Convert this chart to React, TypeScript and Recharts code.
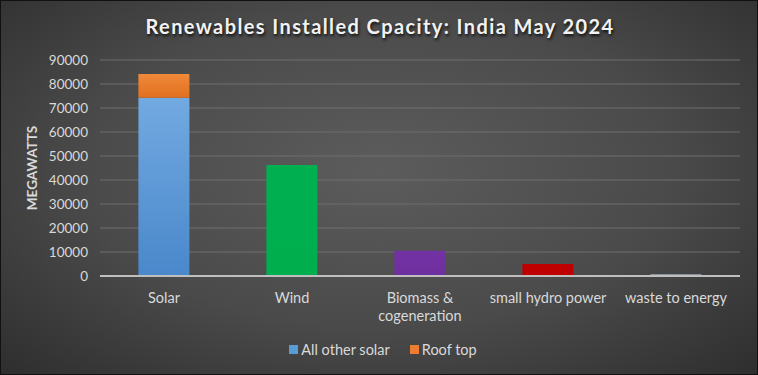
import React from "react";
import { BarChart, Bar, XAxis, YAxis, CartesianGrid, Cell, Label } from "recharts";

const categories = ["Solar", "Wind", "Biomass & cogeneration", "small hydro power", "waste to energy"];
const allOtherSolar = [74300, 46200, 10500, 5000, 600];
const roofTop = [9900, 0, 0, 0, 0];
const yTicks = [0, 10000, 20000, 30000, 40000, 50000, 60000, 70000, 80000, 90000];
const seriesNames = ["All other solar", "Roof top"];
const seriesColors = ["#5b9bd5", "#ed7d31"];
const pointGradients = ["gSolar", "gWind", "gBio", "gHydro", "gWaste"];

const data = categories.map((c, i) => ({ name: c, other: allOtherSolar[i], roof: roofTop[i] }));

const FONT = "Lato, 'Open Sans', sans-serif";
const TXT = "#d9d9d9";

const XTick = (props: any) => {
  const { x, y, payload } = props;
  const words = String(payload.value).split(" ");
  const lines: string[] = [];
  let cur = "";
  for (const w of words) {
    const t = cur ? cur + " " + w : w;
    if (t.length > 18 && cur) {
      lines.push(cur);
      cur = w;
    } else cur = t;
  }
  if (cur) lines.push(cur);
  return (
    <text x={x} y={y + 19} textAnchor="middle" fill={TXT} fontSize={14.5} fontFamily={FONT}>
      {lines.map((l, i) => (
        <tspan key={i} x={x} dy={i === 0 ? 0 : 18}>
          {l}
        </tspan>
      ))}
    </text>
  );
};

export default function App() {
  return (
    <div
      style={{
        position: "absolute",
        left: 0,
        top: 0,
        width: 758,
        height: 375,
        boxSizing: "border-box",
        border: "1px solid #111",
        background: "radial-gradient(ellipse at 50% 45%, #5c5c5c 0%, #4a4a4a 55%, #2e2e2e 100%)",
        overflow: "hidden",
      }}
    >
      <div
        style={{
          position: "absolute",
          top: 13,
          left: 0,
          width: 758,
          textAlign: "center",
          fontFamily: FONT,
          fontWeight: 700,
          fontSize: 20,
          color: "#f2f2f2",
          letterSpacing: 1.4,
          textShadow: "1px 2px 3px rgba(0,0,0,0.8)",
        }}
      >
        Renewables Installed Cpacity: India May 2024
      </div>
      <div style={{ position: "absolute", left: -1, top: -1 }}>
        <BarChart width={758} height={375} data={data} margin={{ top: 60, right: 18, bottom: 0, left: 10 }} barCategoryGap="30%">
          <defs>
            <linearGradient id="gSolar" x1="0" y1="0" x2="0" y2="1">
              <stop offset="0%" stopColor="#72a9e1" />
              <stop offset="100%" stopColor="#4a88cb" />
            </linearGradient>
            <linearGradient id="gRoof" x1="0" y1="0" x2="0" y2="1">
              <stop offset="0%" stopColor="#f0893a" />
              <stop offset="100%" stopColor="#e1701f" />
            </linearGradient>
            <linearGradient id="gWind" x1="0" y1="0" x2="0" y2="1">
              <stop offset="0%" stopColor="#00b050" />
              <stop offset="100%" stopColor="#00ae4e" />
            </linearGradient>
            <linearGradient id="gBio" x1="0" y1="0" x2="0" y2="1">
              <stop offset="0%" stopColor="#7332a4" />
              <stop offset="100%" stopColor="#6e2f9e" />
            </linearGradient>
            <linearGradient id="gHydro" x1="0" y1="0" x2="0" y2="1">
              <stop offset="0%" stopColor="#c00000" />
              <stop offset="100%" stopColor="#bd0000" />
            </linearGradient>
            <linearGradient id="gWaste" x1="0" y1="0" x2="0" y2="1">
              <stop offset="0%" stopColor="#c7dcf0" />
              <stop offset="100%" stopColor="#a9c8e8" />
            </linearGradient>
          </defs>
          <CartesianGrid vertical={false} stroke="#6e6e6e" strokeWidth={1} />
          <XAxis
            dataKey="name"
            tick={<XTick />}
            tickLine={false}
            axisLine={{ stroke: "#bfbfbf", strokeWidth: 2 }}
            height={99}
            interval={0}
          />
          <YAxis
            domain={[0, 90000]}
            ticks={yTicks}
            width={90}
            tickLine={false}
            axisLine={false}
            tick={{ fill: TXT, fontSize: 13.5, fontFamily: FONT }}
            tickMargin={6}
          >
            <Label
              value="MEGAWATTS"
              angle={-90}
              position="insideLeft"
              offset={22}
              style={{ fill: TXT, fontSize: 13.5, fontWeight: 700, fontFamily: FONT, textAnchor: "middle" }}
            />
          </YAxis>
          <Bar dataKey="other" name={seriesNames[0]} stackId="a" isAnimationActive={false}>
            {data.map((d, i) => (
              <Cell key={d.name} fill={`url(#${pointGradients[i]})`} />
            ))}
          </Bar>
          <Bar dataKey="roof" name={seriesNames[1]} stackId="a" fill="url(#gRoof)" isAnimationActive={false} />
        </BarChart>
      </div>
      <div
        style={{
          position: "absolute",
          top: 340,
          left: 0,
          width: 758,
          display: "flex",
          justifyContent: "center",
          gap: 20,
          fontFamily: FONT,
          fontSize: 14.5,
          color: TXT,
          paddingLeft: 6,
          boxSizing: "border-box",
        }}
      >
        {seriesNames.map((n, i) => (
          <div key={n} style={{ display: "flex", alignItems: "center", gap: 3 }}>
            <span style={{ width: 9, height: 9, background: seriesColors[i], display: "inline-block" }} />
            <span>{n}</span>
          </div>
        ))}
      </div>
    </div>
  );
}
